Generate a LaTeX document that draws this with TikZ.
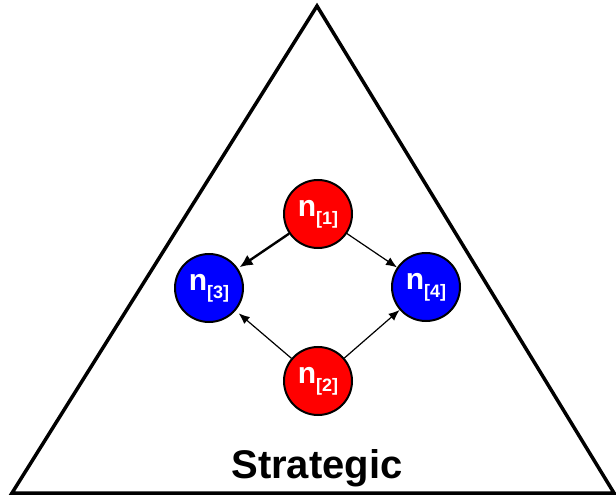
\documentclass[tikz,border=0pt]{standalone}
\usepackage{fontspec}
\setmainfont{Liberation Sans}
\usetikzlibrary{arrows.meta}
\tikzset{
  agent/.style={circle,draw=black,line width=2pt,minimum size=68pt,inner sep=0pt,text=white,font=\fontsize{30}{30}\selectfont\bfseries},
  redagent/.style={agent,fill=red},
  blueagent/.style={agent,fill=blue},
  thinarrow/.style={line width=1.2pt,-{Latex[length=11pt,width=9pt]}},
  thickarrow/.style={line width=2.4pt,-{Latex[length=13pt,width=12pt]}},
  tri/.style={line width=3.5pt,line join=miter}
}
\newcommand{\agentlabel}[1]{n\raisebox{-8pt}{\fontsize{18}{18}\selectfont\bfseries[#1]}}
\begin{document}
\begin{tikzpicture}[x=1pt,y=-1pt]
\useasboundingbox (0,0) rectangle (616,497);
\coordinate (apex) at (317,6);
\coordinate (bl) at (12,493);
\coordinate (br) at (614,493);
\draw[tri] (apex) -- (bl) -- (br) -- cycle;
\node[redagent] (n1) at (318,214) {\agentlabel{1}};
\node[redagent] (n2) at (318,381) {\agentlabel{2}};
\node[blueagent] (n3) at (209,288) {\agentlabel{3}};
\node[blueagent] (n4) at (426,287) {\agentlabel{4}};
\draw[thickarrow,shorten >=2pt] (n1) -- (n3);
\draw[thinarrow] (n1) -- (n4);
\draw[thinarrow,shorten >=4pt] (n2) -- (n3);
\draw[thinarrow] (n2) -- (n4);
\node[font=\fontsize{40}{40}\selectfont\bfseries,anchor=base] (label) at (317,478) {Strategic};
\end{tikzpicture}
\end{document}
